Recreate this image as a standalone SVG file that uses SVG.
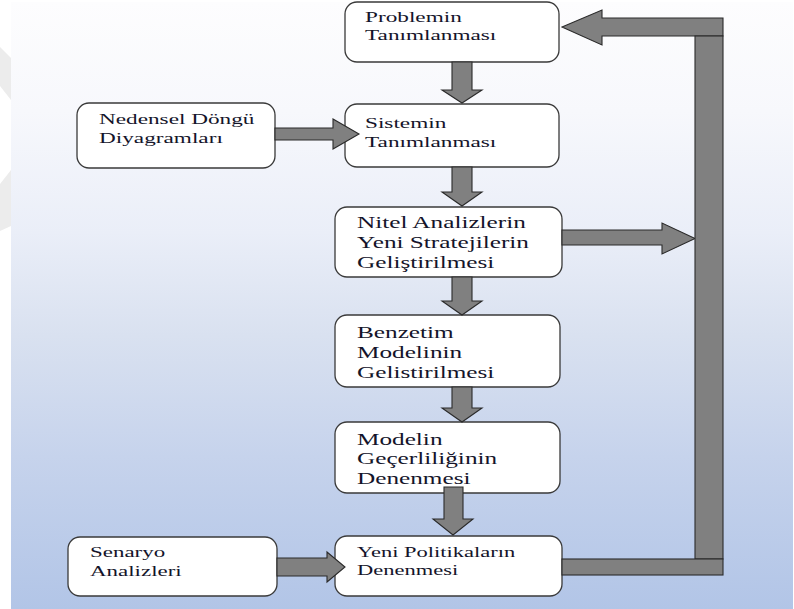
<svg xmlns="http://www.w3.org/2000/svg" width="794" height="609" viewBox="0 0 794 609">
  <defs>
    <linearGradient id="bg" x1="0" y1="0" x2="0" y2="1">
      <stop offset="0" stop-color="#fdfdfe"/>
      <stop offset="0.18" stop-color="#f7f8fc"/>
      <stop offset="0.38" stop-color="#eaeef8"/>
      <stop offset="0.55" stop-color="#d9e1f0"/>
      <stop offset="0.75" stop-color="#c6d3ec"/>
      <stop offset="1" stop-color="#b2c5e7"/>
    </linearGradient>
    <style>
      .box { fill: #ffffff; stroke: #3a3a3a; stroke-width: 1.3; }
      .arw { fill: #808080; stroke: #2a2a2a; stroke-width: 1.1; stroke-linejoin: miter; }
      .t { fill: #14142a; font-family: "Liberation Serif", "Times New Roman", serif; }
      .s { font-size: 15px; }
      .l { font-size: 16.5px; }
    </style>
  </defs>

  <!-- page background -->
  <rect x="0" y="0" width="794" height="609" fill="#ffffff"/>
  <polygon points="0,47 11,58 11,100 0,86" fill="#ececec"/>
  <polygon points="11,170 0,184 0,231 11,226" fill="#ececec"/>
  <rect x="11" y="2" width="782" height="607" fill="url(#bg)"/>

  <!-- process steps; labels are set in a wide (horizontally stretched) serif -->
  <g id="problem">
    <rect class="box" x="345" y="2" width="214" height="60" rx="12"/>
    <g transform="translate(365,0) scale(1.55,1)">
      <text class="t s" x="0" y="22">Problemin</text>
      <text class="t s" x="0" y="40">Tanımlanması</text>
    </g>
  </g>
  <g id="sistem">
    <rect class="box" x="345" y="104" width="214" height="63" rx="12"/>
    <g transform="translate(365,0) scale(1.55,1)">
      <text class="t s" x="0" y="128">Sistemin</text>
      <text class="t s" x="0" y="147">Tanımlanması</text>
    </g>
  </g>
  <g id="nedensel">
    <rect class="box" x="77" y="103" width="198" height="65" rx="12"/>
    <g transform="translate(99,0) scale(1.55,1)">
      <text class="t s" x="0" y="124">Nedensel Döngü</text>
      <text class="t s" x="0" y="143">Diyagramları</text>
    </g>
  </g>
  <g id="nitel">
    <rect class="box" x="335" y="207" width="227" height="70" rx="12"/>
    <g transform="translate(357,0) scale(1.53,1)">
      <text class="t l" x="0" y="228">Nitel Analizlerin</text>
      <text class="t l" x="0" y="248">Yeni Stratejilerin</text>
      <text class="t l" x="0" y="268">Geliştirilmesi</text>
    </g>
  </g>
  <g id="benzetim">
    <rect class="box" x="335" y="315" width="225" height="72" rx="12"/>
    <g transform="translate(357,0) scale(1.53,1)">
      <text class="t l" x="0" y="338">Benzetim</text>
      <text class="t l" x="0" y="358">Modelinin</text>
      <text class="t l" x="0" y="378">Gelistirilmesi</text>
    </g>
  </g>
  <g id="gecerlilik">
    <rect class="box" x="335" y="422" width="225" height="71" rx="12"/>
    <g transform="translate(357,0) scale(1.53,1)">
      <text class="t l" x="0" y="445">Modelin</text>
      <text class="t l" x="0" y="464">Geçerliliğinin</text>
      <text class="t l" x="0" y="484">Denenmesi</text>
    </g>
  </g>
  <g id="politika">
    <rect class="box" x="335" y="536" width="227" height="60" rx="12"/>
    <g transform="translate(357,0) scale(1.5,1)">
      <text class="t s" x="0" y="557">Yeni Politikaların</text>
      <text class="t s" x="0" y="575">Denenmesi</text>
    </g>
  </g>
  <g id="senaryo">
    <rect class="box" x="68" y="537" width="209" height="59" rx="12"/>
    <g transform="translate(90,0) scale(1.53,1)">
      <text class="t s" x="0" y="557">Senaryo</text>
      <text class="t s" x="0" y="576">Analizleri</text>
    </g>
  </g>

  <!-- block arrows -->
  <g id="connectors">
    <path class="arw" d="M452,62 H472 V90 H482 L462,103 L442,90 H452 Z"/>
    <path class="arw" d="M452,167 H472 V192 H482 L462,206 L442,192 H452 Z"/>
    <path class="arw" d="M452,277 H472 V301 H482 L462,315 L442,301 H452 Z"/>
    <path class="arw" d="M452,387 H472 V408 H482 L462,422 L442,408 H452 Z"/>
    <path class="arw" d="M444,487 H463 V519 H473 L453,535 L433,519 H444 Z"/>
    <path class="arw" d="M275,128 H333 V119 L359,134 L333,149 V140 H275 Z"/>
    <path class="arw" d="M277,558 H327 V552 L345,567 L327,582 V576 H277 Z"/>
    <path class="arw" d="M562,230 H662 V223 L695,238.5 L662,254 V245 H562 Z"/>
    <!-- feedback loop -->
    <path class="arw" d="M723,18 H602 V10 L562,27 L602,45 V36 H723 Z"/>
    <rect class="arw" x="695" y="36" width="28" height="523"/>
    <rect class="arw" x="562" y="559" width="161" height="16"/>
  </g>
</svg>
